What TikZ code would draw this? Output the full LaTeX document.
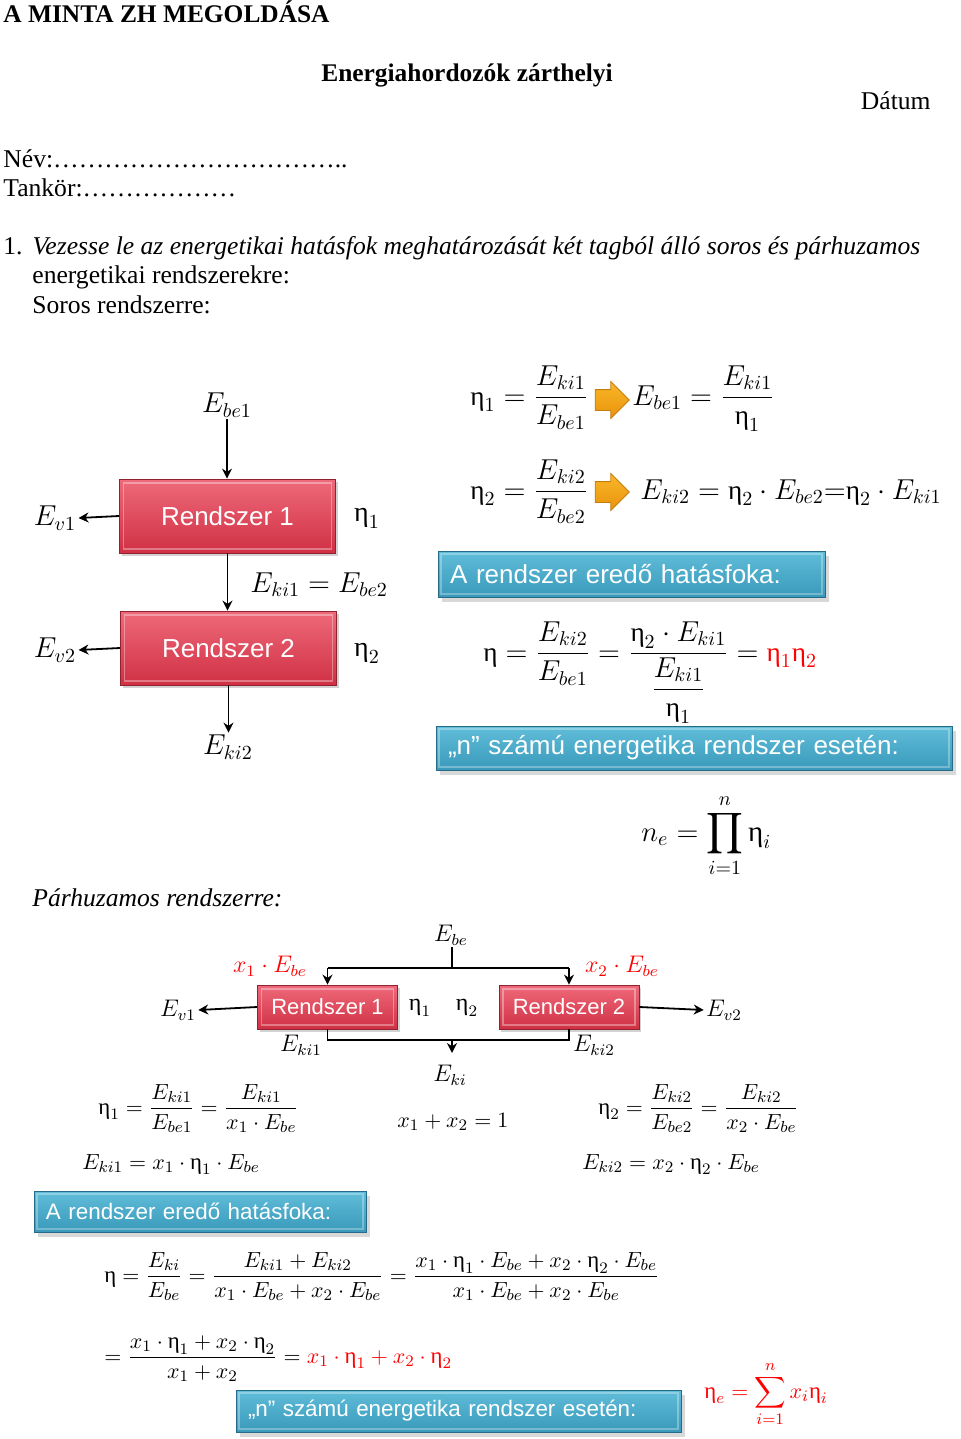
\documentclass[tikz,border=0pt]{standalone}
\usepackage{amsmath}
\usepackage{fontspec}
\setmainfont{Liberation Serif}
\setsansfont{Liberation Sans}
\usetikzlibrary{arrows.meta,shapes.arrows,shadows}
\definecolor{pirosvil}{RGB}{238,106,122}
\definecolor{pirossot}{RGB}{208,48,68}
\definecolor{kekvil}{RGB}{96,190,218}
\definecolor{keksot}{RGB}{58,152,186}
\definecolor{kekkeret}{RGB}{38,108,138}
\definecolor{narancsvil}{RGB}{250,184,40}
\definecolor{narancssot}{RGB}{232,146,12}
\newcommand{\hf}{\textnormal{η}}

\begin{document}
\begin{tikzpicture}[
	x=0.5pt, y=-0.5pt,
	font=\fontsize{12.8}{15}\selectfont,
	szoveg/.style={anchor=base west, inner sep=0pt},
	cimke/.style={inner sep=1pt, font=\fontsize{14}{17}\selectfont},
	cimkekis/.style={inner sep=1pt, font=\fontsize{12}{14}\selectfont},
	keplet/.style={anchor=base west, inner sep=0pt, font=\fontsize{13.6}{16}\selectfont},
	kepletkis/.style={anchor=base west, inner sep=0pt, font=\fontsize{11.4}{14}\selectfont},
	rendszer/.style={rectangle, top color=pirosvil, bottom color=pirossot,
		draw=pirossot!70!black, text=white, inner sep=0pt,
		drop shadow={shadow xshift=1pt, shadow yshift=-1.5pt, opacity=0.35},
		path picture={\draw[white, opacity=0.35, line width=0.6pt]
			([shift={(2pt,2pt)}]path picture bounding box.south west) rectangle
			([shift={(-2pt,-2pt)}]path picture bounding box.north east);}},
	rendszernagy/.style={rendszer, minimum width=108pt, minimum height=37pt,
		font=\sffamily\fontsize{13}{15}\selectfont},
	rendszerkis/.style={rendszer, minimum width=70pt, minimum height=22pt,
		font=\sffamily\fontsize{11}{13}\selectfont},
	kek/.style={rectangle, top color=kekvil, bottom color=keksot, draw=kekkeret,
		text=white, align=left, inner xsep=6pt, inner ysep=0pt,
		drop shadow={shadow xshift=2pt, shadow yshift=-2.5pt, opacity=0.3},
		path picture={\draw[white, opacity=0.3, line width=0.6pt]
			([shift={(1.5pt,1.5pt)}]path picture bounding box.south west) rectangle
			([shift={(-1.5pt,-1.5pt)}]path picture bounding box.north east);}},
	narancs/.style={single arrow, single arrow head extend=4pt, minimum height=17pt,
		inner sep=5pt, top color=narancsvil, bottom color=narancssot,
		draw=narancssot!85!black},
	nyil/.style={-{Stealth[length=5pt,width=5pt]}, line width=0.9pt},
	vonal/.style={line width=0.9pt}
	]
	\useasboundingbox[fill=white] (0,0) rectangle (960,1439);

	\node[szoveg, font=\bfseries\fontsize{12.7}{15}\selectfont] (fejlec) at (3,23) {A MINTA ZH MEGOLDÁSA};
	\node[anchor=base, inner sep=0pt, font=\bfseries\fontsize{12.7}{15}\selectfont] (cim) at (467,82) {Energiahordozók zárthelyi};
	\node[anchor=base east, inner sep=0pt] (datum) at (931,110) {Dátum};
	\node[szoveg] (nev) at (3,168) {Név:……………………………..};
	\node[szoveg] (tankor) at (3,197) {Tankör:………………};
	\node[szoveg] (feladat) at (3,255) {1.\hspace{5pt}\itshape Vezesse le az energetikai hatásfok meghatározását két tagból álló soros és párhuzamos};
	\node[szoveg] (feladatB) at (32,284) {energetikai rendszerekre:};
	\node[szoveg] (soros) at (32,313) {Soros rendszerre:};

	\node[rendszernagy] (rendszerA) at (227.5,516) {Rendszer 1};
	\node[rendszernagy] (rendszerB) at (228.5,648) {Rendszer 2};
	\node[cimke] (EbeA) at (227,405) {$E_{be1}$};
	\node[cimke] (EvA) at (55,518) {$E_{v1}$};
	\node[cimke] (EvB) at (55,650) {$E_{v2}$};
	\node[cimke] (etaA) at (367,518) {$\hf_1$};
	\node[cimke] (etaB) at (367,653) {$\hf_2$};
	\node[cimke] (EkiB) at (228,747) {$E_{ki2}$};
	\node[keplet] (kozte) at (250,592) {$E_{ki1} = E_{be2}$};
	\draw[nyil] (EbeA.south) -- (EbeA.south |- rendszerA.north);
	\draw[nyil] (rendszerA.south) -- (rendszerA.south |- rendszerB.north);
	\draw[nyil] (rendszerB.south) -- (rendszerB.south |- EkiB.north);
	\draw[nyil] (rendszerA.west) -- (EvA.east);
	\draw[nyil] (rendszerB.west) -- (EvB.east);

	\node[keplet] (etaDefA) at (470,405) {$\hf_1 = \dfrac{E_{ki1}}{E_{be1}}$};
	\node[narancs] (nyilA) at (607,400) {};
	\node[keplet] (EbeKepl) at (632,405) {$E_{be1} = \dfrac{E_{ki1}}{\hf_1}$};
	\node[keplet] (etaDefB) at (470,499) {$\hf_2 = \dfrac{E_{ki2}}{E_{be2}}$};
	\node[narancs] (nyilB) at (607,492) {};
	\node[keplet] (EkiKepl) at (640,499) {$E_{ki2} = \hf_2\cdot E_{be2}{=}\hf_2\cdot E_{ki1}$};
	\node[kek, minimum height=23pt, text width=181.5pt, font=\sffamily\fontsize{13}{15}\selectfont] (eredoA) at (631.5,574) {A rendszer eredő hatásfoka:};
	\node[keplet] (etaSoros) at (483,661) {$\hf = \dfrac{E_{ki2}}{E_{be1}} = \dfrac{\hf_2\cdot E_{ki1}}{\dfrac{E_{ki1}}{\hf_1}} = \textcolor{red}{\hf_1\hf_2}$};
	\node[kek, minimum height=22pt, text width=246pt, font=\sffamily\fontsize{13}{15}\selectfont] (nszamA) at (694,748) {„n” számú energetika rendszer esetén:};
	\node[keplet, font=\fontsize{14.5}{17}\selectfont] (szorzat) at (641,841) {$n_e = \displaystyle\prod_{i=1}^{n}\hf_i$};

	\node[szoveg, font=\itshape\fontsize{12.8}{15}\selectfont] (parhuzamos) at (32,906) {Párhuzamos rendszerre:};

	\node[rendszerkis] (rendszerC) at (327.5,1007) {Rendszer 1};
	\node[rendszerkis] (rendszerD) at (569,1007) {Rendszer 2};
	\node[cimkekis] (Ebe) at (451,935) {$E_{be}$};
	\node[cimkekis, text=red] (reszA) at (270,966) {$x_1\cdot E_{be}$};
	\node[cimkekis, text=red] (reszB) at (622,966) {$x_2\cdot E_{be}$};
	\node[cimkekis] (etaC) at (420,1008) {$\hf_1$};
	\node[cimkekis] (etaD) at (467,1008) {$\hf_2$};
	\node[cimkekis] (EvC) at (178,1010) {$E_{v1}$};
	\node[cimkekis] (EvD) at (724,1010) {$E_{v2}$};
	\node[cimkekis] (EkiC) at (301,1045) {$E_{ki1}$};
	\node[cimkekis] (EkiD) at (594,1045) {$E_{ki2}$};
	\node[cimkekis] (Eki) at (450,1075) {$E_{ki}$};
	\coordinate (eloszt) at (452,968);
	\coordinate (gyujt) at (452,1040);
	\draw[vonal] (Ebe.south -| eloszt) -- (eloszt);
	\draw[vonal] (rendszerC.north |- eloszt) -- (rendszerD.north |- eloszt);
	\draw[nyil] (rendszerC.north |- eloszt) -- (rendszerC.north);
	\draw[nyil] (rendszerD.north |- eloszt) -- (rendszerD.north);
	\draw[vonal] (rendszerC.south) -- (rendszerC.south |- gyujt) -- (rendszerD.south |- gyujt) -- (rendszerD.south);
	\draw[nyil] (gyujt) -- ++(0,13);
	\draw[nyil] (rendszerC.west) -- (EvC.east);
	\draw[nyil] (rendszerD.east) -- (EvD.west);

	\node[kepletkis] (etaDefC) at (98,1114) {$\hf_1 = \dfrac{E_{ki1}}{E_{be1}} = \dfrac{E_{ki1}}{x_1\cdot E_{be}}$};
	\node[kepletkis] (osszeg) at (397,1127) {$x_1 + x_2 = 1$};
	\node[kepletkis] (etaDefD) at (598,1114) {$\hf_2 = \dfrac{E_{ki2}}{E_{be2}} = \dfrac{E_{ki2}}{x_2\cdot E_{be}}$};
	\node[kepletkis] (EkiKeplC) at (82,1169) {$E_{ki1} = x_1\cdot\hf_1\cdot E_{be}$};
	\node[kepletkis] (EkiKeplD) at (582,1169) {$E_{ki2} = x_2\cdot\hf_2\cdot E_{be}$};
	\node[kek, minimum height=20.5pt, text width=154pt, font=\sffamily\fontsize{11.2}{13}\selectfont] (eredoB) at (200,1211.5) {A rendszer eredő hatásfoka:};
	\node[kepletkis] (etaPar) at (104,1282) {$\hf = \dfrac{E_{ki}}{E_{be}} = \dfrac{E_{ki1}+E_{ki2}}{x_1\cdot E_{be}+x_2\cdot E_{be}} = \dfrac{x_1\cdot\hf_1\cdot E_{be}+x_2\cdot\hf_2\cdot E_{be}}{x_1\cdot E_{be}+x_2\cdot E_{be}}$};
	\node[kepletkis] (etaParB) at (104,1363) {$= \dfrac{x_1\cdot\hf_1+x_2\cdot\hf_2}{x_1+x_2} = \textcolor{red}{x_1\cdot\hf_1+x_2\cdot\hf_2}$};
	\node[kek, minimum height=21pt, text width=210.5pt, font=\sffamily\fontsize{11.2}{13}\selectfont] (nszamB) at (458.5,1411) {„n” számú energetika rendszer esetén:};
	\node[kepletkis, text=red] (szumma) at (704,1398) {$\hf_e = \displaystyle\sum_{i=1}^{n} x_i\hf_i$};
\end{tikzpicture}
\end{document}
